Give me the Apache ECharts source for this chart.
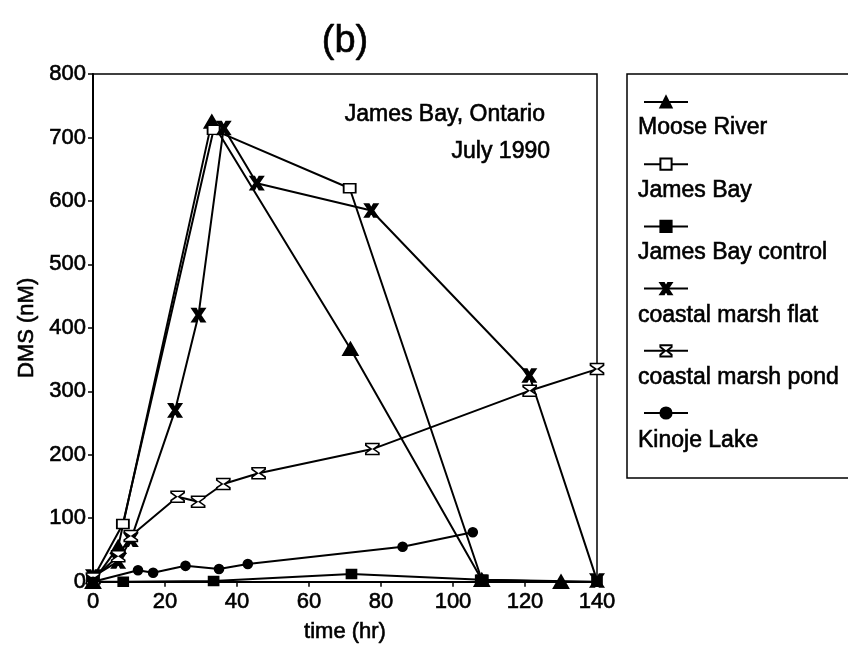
<!DOCTYPE html>
<html>
<head>
<meta charset="utf-8">
<script src="https://cdn.jsdelivr.net/npm/echarts@6/dist/echarts.min.js"></script>
<style>
  html, body { margin: 0; padding: 0; background: #fff; }
  #chart { width: 848px; height: 648px; }
</style>
</head>
<body>
<div id="chart"></div>
<script>
// DMS concentration (nM) versus incubation time (hr), James Bay, Ontario, July 1990
const seriesNames = ['Moose River', 'James Bay', 'James Bay control',
  'coastal marsh flat', 'coastal marsh pond', 'Kinoje Lake'];

const mooseRiverTime = [0, 7, 33, 71.5, 108, 130];
const mooseRiverDMS  = [0, 55, 725, 367, 3, 0];

const jamesBayTime = [0, 8.3, 33.5, 71.3, 108];
const jamesBayDMS  = [5, 91, 712, 620, 3];

const jamesBayControlTime = [0, 8.4, 33.5, 71.8, 108, 140];
const jamesBayControlDMS  = [0, 0, 1, 12, 3, 0];

const marshFlatTime = [0, 7, 10.5, 22.8, 29.3, 36.3, 45.5, 77.3, 121.2, 140];
const marshFlatDMS  = [8, 32, 66, 270, 420, 715, 628, 585, 325, 2];

const marshPondTime = [0, 7, 10.5, 23.5, 29.2, 36.2, 46, 77.6, 121.3, 140];
const marshPondDMS  = [5, 40, 72, 134, 126, 154, 171, 209, 301, 335];

const kinojeTime = [0, 12.5, 16.7, 25.7, 35, 43, 86, 105.5];
const kinojeDMS  = [0, 18, 14, 25, 20, 28, 55, 78];

const xTicks = { min: 0, max: 140, interval: 20 };
const yTicks = { min: 0, max: 800, interval: 100 };

const pairs = (t, v) => t.map((x, i) => [x, v[i]]);

const FONT = 'Liberation Sans, Arial, sans-serif';
const INK = '#000';
const HEAVY = 0.6; // slight outline to give the type its heavy printed weight

// marker shapes
const xMark = 'path://M0,0 L3.2,0 L5,3.4 L6.8,0 L10,0 L6.6,5 L10,10 L6.8,10 L5,6.6 L3.2,10 L0,10 L3.4,5 Z';
const hourglass = 'path://M0,0 L10,0 L10,1.6 L5.9,5 L10,8.4 L10,10 L0,10 L0,8.4 L4.1,5 L0,1.6 Z';

const styles = [
  { symbol: 'triangle', symbolSize: [15, 13], fill: INK },
  { symbol: 'rect', symbolSize: [12, 9], fill: '#fff' },
  { symbol: 'rect', symbolSize: [10, 9], fill: INK },
  { symbol: xMark, symbolSize: [13, 13], fill: INK },
  { symbol: hourglass, symbolSize: [13, 11], fill: '#fff' },
  { symbol: 'circle', symbolSize: 9, fill: INK }
];

const dataSets = [
  pairs(mooseRiverTime, mooseRiverDMS),
  pairs(jamesBayTime, jamesBayDMS),
  pairs(jamesBayControlTime, jamesBayControlDMS),
  pairs(marshFlatTime, marshFlatDMS),
  pairs(marshPondTime, marshPondDMS),
  pairs(kinojeTime, kinojeDMS)
];

const series = seriesNames.map((name, i) => ({
  name,
  type: 'line',
  data: dataSets[i],
  symbol: styles[i].symbol,
  symbolSize: styles[i].symbolSize,
  showAllSymbol: true,
  clip: false,
  lineStyle: { color: INK, width: 2 },
  itemStyle: { color: styles[i].fill, borderColor: INK, borderWidth: 1.6 },
  emphasis: { disabled: true },
  animation: false
}));

const textStyle = (size, align) => ({
  font: size + 'px ' + FONT, fill: INK, stroke: INK, lineWidth: HEAVY,
  textAlign: align, textVerticalAlign: 'middle'
});

// legend text rows sit beneath each legend marker
const legendLabelY = [128, 191, 253, 316, 378, 441];
const legendGraphics = [
  {
    type: 'rect',
    shape: { x: 627, y: 74, width: 240, height: 404 },
    style: { fill: 'none', stroke: INK, lineWidth: 1.5 },
    silent: true
  }
].concat(seriesNames.map((name, i) => ({
  type: 'text',
  x: 638,
  y: legendLabelY[i],
  style: Object.assign({ text: name }, textStyle(23, 'left')),
  silent: true
})));

const axisLabelStyle = {
  fontFamily: FONT, fontSize: 22, color: INK,
  textBorderColor: INK, textBorderWidth: HEAVY
};
const axisNameStyle = {
  fontFamily: FONT, fontSize: 22, color: INK,
  textBorderColor: INK, textBorderWidth: HEAVY
};

const option = {
  backgroundColor: '#fff',
  animation: false,
  grid: {
    left: 93, right: 251, top: 74, bottom: 65,
    show: true, borderColor: INK, borderWidth: 1.5, backgroundColor: 'transparent'
  },
  xAxis: {
    type: 'value',
    min: xTicks.min, max: xTicks.max, interval: xTicks.interval,
    name: 'time (hr)',
    nameLocation: 'middle',
    nameGap: 39,
    nameTextStyle: axisNameStyle,
    axisLine: { show: true, onZero: false, lineStyle: { color: INK, width: 2 } },
    axisTick: { show: true, inside: false, length: 5, lineStyle: { color: INK, width: 1.5 } },
    axisLabel: Object.assign({ margin: 9 }, axisLabelStyle),
    splitLine: { show: false }
  },
  yAxis: {
    type: 'value',
    min: yTicks.min, max: yTicks.max, interval: yTicks.interval,
    name: 'DMS (nM)',
    nameLocation: 'middle',
    nameGap: 54,
    nameRotate: 90,
    nameTextStyle: axisNameStyle,
    axisLine: { show: true, onZero: false, lineStyle: { color: INK, width: 2 } },
    axisTick: { show: true, inside: false, length: 5, lineStyle: { color: INK, width: 1.5 } },
    axisLabel: Object.assign({ margin: 7 }, axisLabelStyle),
    splitLine: { show: false }
  },
  legend: {
    orient: 'vertical',
    left: 638,
    top: 90,
    itemWidth: 44,
    itemHeight: 14,
    itemGap: 48.6,
    selectedMode: false,
    formatter: () => '',
    textStyle: { fontSize: 10 },
    data: seriesNames
  },
  graphic: [
    { type: 'text', x: 345, y: 42, style: Object.assign({ text: '(b)' }, textStyle(38, 'center')), silent: true },
    { type: 'text', x: 545, y: 115, style: Object.assign({ text: 'James Bay, Ontario' }, textStyle(23, 'right')), silent: true },
    { type: 'text', x: 550, y: 152, style: Object.assign({ text: 'July 1990' }, textStyle(23, 'right')), silent: true }
  ].concat(legendGraphics),
  series
};

const chart = echarts.init(document.getElementById('chart'), null, { renderer: 'canvas' });
chart.setOption(option);
</script>
</body>
</html>
